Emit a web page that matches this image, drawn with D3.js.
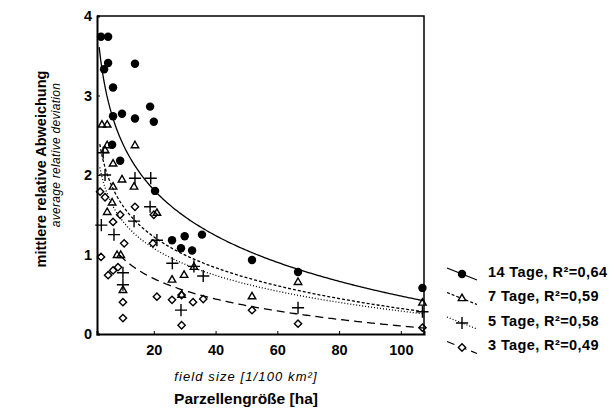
<!DOCTYPE html>
<html lang="de">
<head>
<meta charset="utf-8">
<script src="https://cdn.jsdelivr.net/npm/d3@7"></script>
<style>
  body { margin: 0; background: #fff; }
  text { font-family: "Liberation Sans", Arial, sans-serif; fill: #000; }
</style>
</head>
<body>
<svg id="chart" width="614" height="412"></svg>
<script>
// series labels and fit quality
const series = ["14 Tage", "7 Tage", "5 Tage", "3 Tage"];
const r2 = ["0,64", "0,59", "0,58", "0,49"];

// field size [ha], mean relative deviation
const pts14 = [[2.9,3.74],[5.2,3.74],[5.2,3.41],[3.9,3.33],[13.9,3.40],[6.8,3.10],[6.8,2.74],[9.7,2.77],
               [13.9,2.71],[18.8,2.86],[20.0,2.67],[6.5,2.38],[9.1,2.18],[20.4,1.80],[25.9,1.18],[30.0,1.23],
               [35.6,1.25],[28.8,1.08],[32.4,1.05],[51.8,0.93],[66.7,0.78],[107,0.58]];
const pts7 = [[3.2,2.63],[4.9,2.63],[4.2,2.31],[4.9,2.37],[13.9,2.37],[6.8,2.14],[9.7,1.94],[13.6,1.85],
              [6.8,1.85],[4.9,1.53],[6.5,1.65],[21,1.52],[8.1,0.99],[9.3,0.99],[10,0.55],[25.9,0.68],
              [29.8,0.74],[33,0.84],[29,0.49],[51.8,0.47],[66.7,0.65],[107,0.39]];
const pts5 = [[3.6,2.28],[4.2,2.0],[13.9,1.96],[19,1.96],[18.8,1.6],[13.6,1.42],[3.0,1.37],[7.1,1.25],
              [21,1.18],[26,0.89],[10,0.77],[10,0.62],[33,0.85],[36,0.73],[28.8,0.30],[66.7,0.33],[107,0.28]];
const pts3 = [[2.6,1.79],[4.2,1.72],[6.8,1.41],[13.9,1.6],[20,1.5],[9.1,1.5],[10.4,1.14],[19.7,1.14],
              [2.9,0.97],[5.2,0.74],[6.8,0.8],[8.4,0.84],[10,0.40],[10,0.20],[21,0.47],[25.9,0.43],
              [29,0.49],[32.7,0.40],[36,0.44],[29,0.11],[51.8,0.30],[66.7,0.13],[107,0.08]];

// logarithmic fits y = a - b*ln(x)
const fitA = [4.30, 2.90, 2.545, 1.805];
const fitB = [0.83, 0.56, 0.49, 0.37];
const fitFrom = [2.3, 2.5, 2.5, 9];

const xTicks = [20, 40, 60, 80, 100];
const yTicks = [0, 1, 2, 3, 4];

const allPts = [pts14, pts7, pts5, pts3];
const symbols = [d3.symbolCircle, d3.symbolTriangle2, d3.symbolPlus, d3.symbolDiamond2];
const symSize = [56, 40, 50, 34];
const dashes = [null, "3,2", "1,2", "8,5"];

const svg = d3.select("#chart");
const x = d3.scaleLinear().domain([1.6, 107.5]).range([97, 424]);
const y = d3.scaleLinear().domain([0, 4]).range([334, 16]);

// frame
svg.append("path")
    .attr("d", `M${x.range()[0]},${y.range()[1]}H${x.range()[1]}V${y.range()[0]}`)
    .attr("fill", "none").attr("stroke", "#000").attr("stroke-width", 1.5);

// axes
const xAxis = svg.append("g")
    .attr("transform", `translate(0,${y(0)})`)
    .call(d3.axisBottom(x).tickValues(xTicks).tickSize(-3).tickPadding(11));
const yAxis = svg.append("g")
    .attr("transform", `translate(${x.range()[0]},0)`)
    .call(d3.axisLeft(y).tickValues(yTicks).tickSize(-3).tickPadding(5).tickFormat(d3.format("d")));
[xAxis, yAxis].forEach(g => {
    g.select(".domain").attr("stroke-width", 2);
    g.selectAll("text").attr("font-size", 14.5).attr("font-weight", "bold")
        .attr("font-family", "'Liberation Sans', Arial, sans-serif");
});

function curveData(i) {
    const xs = d3.range(fitFrom[i], x.domain()[1] + 0.01, 0.5);
    return xs.map(v => [v, fitA[i] - fitB[i] * Math.log(v)]);
}

const line = d3.line().x(d => x(d[0])).y(d => y(d[1]));

series.forEach((s, i) => {
    svg.append("path")
        .datum(curveData(i))
        .attr("d", line)
        .attr("fill", "none")
        .attr("stroke", "#000")
        .attr("stroke-width", 1.3)
        .attr("stroke-dasharray", dashes[i]);
});

series.forEach((s, i) => {
    svg.append("g").selectAll("path")
        .data(allPts[i])
        .join("path")
        .attr("transform", d => `translate(${x(d[0])},${y(d[1])})`)
        .attr("d", d3.symbol().type(symbols[i]).size(symSize[i]))
        .attr("fill", i === 0 ? "#000" : "none")
        .attr("stroke", "#000")
        .attr("stroke-width", i === 0 ? 0 : 1.4);
});

// legend
const legend = svg.append("g").attr("transform", "translate(447,273)");
series.forEach((s, i) => {
    const row = legend.append("g").attr("transform", `translate(0,${i * 24.5})`);
    row.append("line")
        .attr("x1", 0).attr("y1", -5).attr("x2", 30).attr("y2", 7)
        .attr("stroke", "#000").attr("stroke-width", 1.2)
        .attr("stroke-dasharray", dashes[i]);
    row.append("path")
        .attr("transform", "translate(15,1)")
        .attr("d", d3.symbol().type(symbols[i]).size(symSize[i]))
        .attr("fill", i === 0 ? "#000" : "#fff")
        .attr("stroke", "#000")
        .attr("stroke-width", i === 0 ? 0 : 1.4);
    row.append("text")
        .attr("x", 41).attr("y", 0)
        .attr("dominant-baseline", "middle")
        .attr("font-size", 14.5).attr("font-weight", "bold")
        .attr("letter-spacing", 0.4)
        .text(`${s}, R²=${r2[i]}`);
});

// axis titles
svg.append("text")
    .attr("transform", "translate(42,169) rotate(-90)")
    .attr("text-anchor", "middle").attr("dominant-baseline", "middle")
    .attr("font-size", 14.5).attr("font-weight", "bold")
    .text("mittlere relative Abweichung");
svg.append("text")
    .attr("transform", "translate(57,155) rotate(-90)")
    .attr("text-anchor", "middle").attr("dominant-baseline", "middle")
    .attr("font-size", 12).attr("font-style", "italic")
    .attr("letter-spacing", 0.3)
    .text("average relative deviation");
svg.append("text")
    .attr("x", 246).attr("y", 378)
    .attr("text-anchor", "middle").attr("dominant-baseline", "middle")
    .attr("font-size", 13).attr("font-style", "italic")
    .attr("letter-spacing", 1.1)
    .text("field size [1/100 km²]");
svg.append("text")
    .attr("x", 246).attr("y", 400)
    .attr("text-anchor", "middle").attr("dominant-baseline", "middle")
    .attr("font-size", 15.5).attr("font-weight", "bold")
    .text("Parzellengröße [ha]");
</script>
</body>
</html>
